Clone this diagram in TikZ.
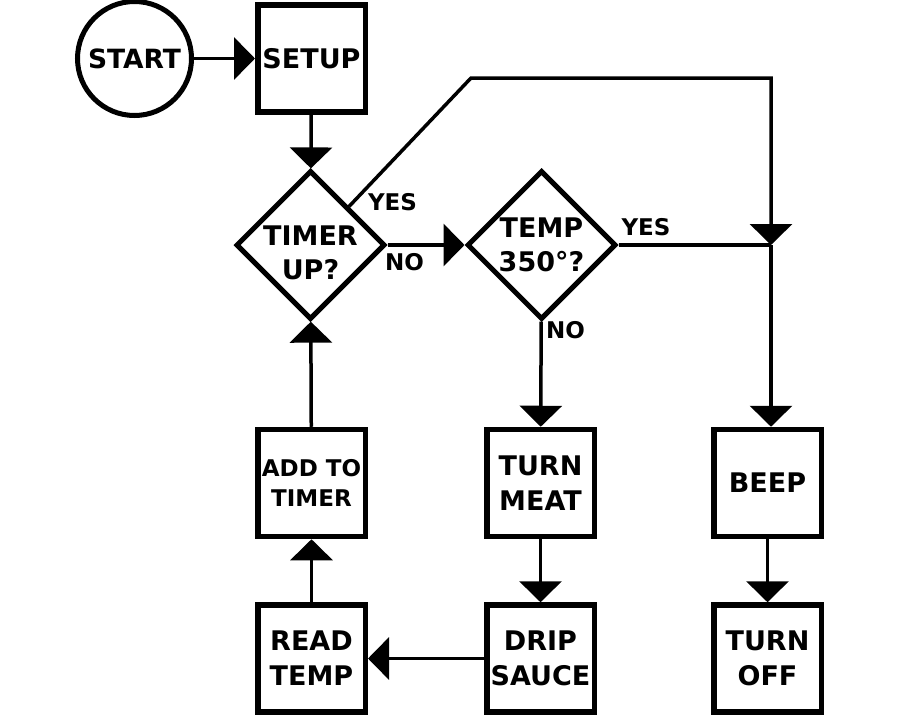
\documentclass[tikz,border=0pt]{standalone}
\usepackage{fontspec}
\setmainfont{DejaVu Sans}
\usetikzlibrary{positioning,arrows.meta,shapes.geometric}
\tikzset{
  flow/.style={-{Triangle[length=21pt,width=42pt]},line width=3.5pt},
  plainflow/.style={line width=3.5pt},
  stepbox/.style={draw,line width=5.5pt,fill=white,minimum width=107.5pt,
    minimum height=107pt,inner sep=0pt,align=center,
    font=\fontsize{27}{35}\selectfont\bfseries},
  smallbox/.style={stepbox,font=\fontsize{23}{30}\selectfont\bfseries},
  startnode/.style={draw,circle,line width=5pt,fill=white,minimum size=114pt,
    inner sep=0pt,font=\fontsize{26.5}{30}\selectfont\bfseries},
  decision/.style={draw,diamond,aspect=1,line width=5pt,fill=white,
    minimum width=149pt,minimum height=149pt,inner sep=-8pt,align=center,
    font=\fontsize{27}{34}\selectfont\bfseries},
  answer/.style={inner sep=0pt,font=\fontsize{23}{25}\selectfont\bfseries}
}
\begin{document}
\begin{tikzpicture}[x=1pt,y=-1pt]
  \path[use as bounding box,fill=white] (0,0) rectangle (900,720);
  \node[startnode] (start) at (134.5,58.5) {START};
  \node[stepbox,right=61pt of start] (setup) {SETUP};
  \node[decision] (timer) at (310.5,245) {\rule{0pt}{35pt}TIMER\\UP?};
  \node[decision,right=77pt of timer] (temp) {TEMP\\350°?};
  \node[smallbox] (add) at (311.5,483) {ADD TO\\TIMER};
  \node[stepbox,right=116pt of add] (meat) {TURN\\MEAT};
  \node[stepbox,right=114pt of meat] (beep) {BEEP};
  \node[stepbox,below=63pt of add] (read) {READ\\TEMP};
  \node[stepbox,below=63pt of meat] (sauce) {DRIP\\SAUCE};
  \node[stepbox,below=63pt of beep] (off) {TURN\\OFF};
  \coordinate (bend) at (471,78);
  \coordinate (junction) at (771,245);
  \coordinate (corner) at (junction |- bend);
  \node[answer] (timeryes) at (392.5,202.5) {YES};
  \node[answer] (timerno) at (404.5,262.5) {NO};
  \node[answer] (tempyes) at (646,227.5) {YES};
  \node[answer] (tempno) at (565.5,330.5) {NO};
  \draw[flow] (start) -- (setup);
  \draw[flow] (setup) -- (timer);
  \draw[flow] (timer.north east) -- (bend) -- (corner) -- (junction);
  \draw[flow] (timer) -- (temp);
  \draw[plainflow] (temp.east) -- (junction);
  \draw[flow] (junction) -- (junction |- beep.north);
  \draw[flow] (temp) -- (meat);
  \draw[flow] (meat) -- (sauce);
  \draw[flow] (beep) -- (off);
  \draw[flow] (sauce) -- (read);
  \draw[flow] (read) -- (add);
  \draw[flow] (add) -- (timer);
\end{tikzpicture}
\end{document}
